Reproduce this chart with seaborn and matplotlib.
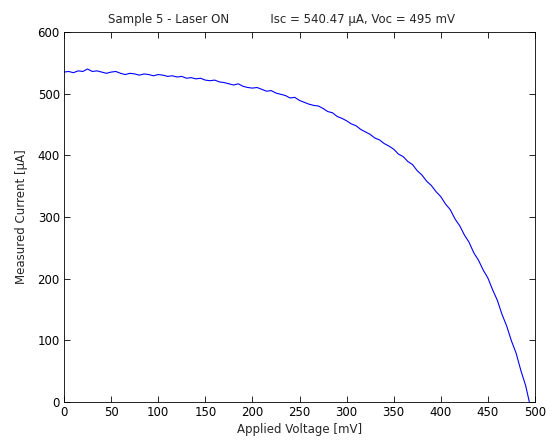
import numpy as np
import pandas as pd
import matplotlib
matplotlib.use('Agg')
import matplotlib.pyplot as plt
import seaborn as sns

# Applied voltage [mV] and measured current [uA]
voltage = [0, 5, 10, 15, 20, 25, 30, 35, 40, 45,
           50, 55, 60, 65, 70, 75, 80, 85, 90, 95,
           100, 105, 110, 115, 120, 125, 130, 135, 140, 145,
           150, 155, 160, 165, 170, 175, 180, 185, 190, 195,
           200, 205, 210, 215, 220, 225, 230, 235, 240, 245,
           250, 255, 260, 265, 270, 275, 280, 285, 290, 295,
           300, 305, 310, 315, 320, 325, 330, 335, 340, 345,
           350, 355, 360, 365, 370, 375, 380, 385, 390, 395,
           400, 405, 410, 415, 420, 425, 430, 435, 440, 445,
           450, 455, 460, 465, 470, 475, 480, 485, 490, 494]
current = [535, 536, 534, 537, 536, 540, 536, 537, 535, 533,
           535, 536, 533, 531, 533, 532, 530, 532, 531, 529,
           531, 530, 528, 529, 527, 528, 525, 526, 524, 525,
           522, 521, 522, 519, 518, 516, 514, 516, 512, 510,
           509, 510, 507, 504, 505, 501, 499, 497, 493, 494,
           489, 486, 483, 481, 480, 476, 471, 469, 463, 460,
           456, 451, 448, 442, 438, 434, 428, 425, 419, 415,
           410, 402, 398, 390, 385, 375, 368, 358, 351, 341,
           333, 321, 312, 297, 286, 271, 259, 242, 230, 214,
           201, 182, 165, 142, 123, 99, 79, 51, 27, 0]

xticks = [0, 50, 100, 150, 200, 250, 300, 350, 400, 450, 500]
yticks = [0, 100, 200, 300, 400, 500, 600]

df = pd.DataFrame(dict(voltage=voltage, current=current))

sns.set_style('white')
sns.set_style('ticks')
plt.rcParams['font.family'] = ['DejaVu Sans']
fs = 8.5

fig = plt.figure(figsize=(5.53, 4.45), dpi=100)
ax = fig.add_axes([64 / 553, 43 / 445, 471 / 553, 370 / 445])

sns.lineplot(data=df, x='voltage', y='current', color='#0000ff',
             linewidth=0.8, ax=ax)

ax.set_xlim(0, 500)
ax.set_ylim(0, 600)
ax.set_xticks(xticks)
ax.set_yticks(yticks)
ax.tick_params(direction='in', top=True, right=True, length=4,
               width=0.6, labelsize=fs, colors='black', pad=3)
for s in ax.spines.values():
    s.set_linewidth(0.6)
    s.set_color('black')

ax.set_xlabel('Applied Voltage [mV]', fontsize=fs, labelpad=3)
ax.set_ylabel('Measured Current [\u00b5A]', fontsize=fs, labelpad=7)
fig.text(282 / 553, 1 - 19 / 445,
         'Sample 5 - Laser ON           Isc = 540.47 \u00b5A, Voc = 495 mV',
         fontsize=fs, ha='center', va='center')

fig.savefig('out.png', dpi=100)
